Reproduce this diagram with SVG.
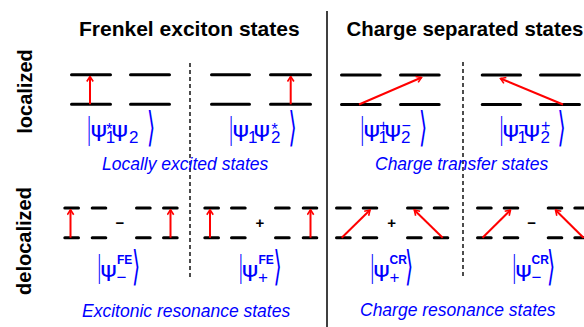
<svg xmlns="http://www.w3.org/2000/svg" width="584" height="327" viewBox="0 0 584 327">
<defs>
<style>
.lv{stroke:#000;stroke-width:3;stroke-linecap:round;fill:none}
.dv{stroke:#000;stroke-width:1.4;stroke-dasharray:4 3;fill:none}
.sd{stroke:#000;stroke-width:1.5;fill:none}
.ar{stroke:#f00;stroke-width:2;fill:none;marker-end:url(#ah)}
.ti{font-family:"Liberation Sans",Arial,sans-serif;font-weight:bold;font-size:21px;fill:#000}
.si{font-family:"Liberation Sans",Arial,sans-serif;font-weight:bold;font-size:20px;fill:#000;text-anchor:middle}
.cp{font-family:"Liberation Sans",Arial,sans-serif;font-style:italic;font-size:17.5px;fill:#0000ff}
.kt{font-family:"Liberation Sans",Arial,sans-serif;font-size:20px;fill:#0000ff}
.ps{font-family:"DejaVu Sans",sans-serif;font-size:22px;fill:#0000ff}
.sb{font-size:17px}
.sp{font-size:16px}
.bs{font-size:12px;font-weight:bold}
.br{font-family:"Liberation Sans",Arial,sans-serif;font-size:20px;fill:#0000ff}
.an{font-family:"DejaVu Sans",sans-serif;font-size:30px;fill:#0000ff}
.pm{font-family:"Liberation Sans",Arial,sans-serif;font-weight:bold;font-size:15px;fill:#000;text-anchor:middle}
</style>
<marker id="ah" viewBox="-6 -4 7 8" markerWidth="7" markerHeight="8" refX="0" refY="0" orient="auto" markerUnits="userSpaceOnUse">
<path d="M-5,-3.2 L0,0 L-5,3.2" fill="none" stroke="#f00" stroke-width="1.6"/>
</marker>
</defs>
<rect width="584" height="327" fill="#fff"/>

<g id="headers">
<text class="ti" x="79" y="36">Frenkel exciton states</text>
<text class="ti" x="346.5" y="36" style="font-size:20.4px">Charge separated states</text>
<text class="si" transform="translate(31.5,91.5) rotate(-90)">localized</text>
<text class="si" transform="translate(31,241) rotate(-90)">delocalized</text>
</g>

<g id="dividers">
<line class="sd" x1="327" y1="11" x2="327" y2="327"/>
<line class="dv" x1="190" y1="63" x2="190" y2="278"/>
<line class="dv" x1="463" y1="62" x2="463" y2="278"/>
</g>

<g id="le1">
<path class="lv" d="M71.5,74.7H110.5M130.5,74.7H169.5M71.5,104.3H110.5M130.5,104.3H169.5"/>
<text class="br" transform="translate(87.5,138.6) scale(0.6,1.6)">|</text>
<text class="ps" transform="translate(90.5,137) scale(1.15,1)">ψ</text>
<text class="kt"><tspan class="sp" x="106.3" y="135">*</tspan><tspan class="sb" x="105.7" y="142.5">1</tspan></text>
<text class="ps" transform="translate(111.5,137) scale(1.15,1)">ψ</text>
<text class="kt"><tspan class="sb" x="129" y="143">2</tspan></text>
<text class="an" transform="translate(147,141) scale(0.7,1.36)">⟩</text>
</g>

<g id="le2">
<path class="lv" d="M211.5,74.7H249.5M270.5,74.7H310.5M211.5,104.3H249.5M270.5,104.3H310.5"/>
<text class="br" transform="translate(229.5,138.6) scale(0.6,1.6)">|</text>
<text class="ps" transform="translate(232.5,137) scale(1.15,1)">ψ</text>
<text class="kt"><tspan class="sb" x="248" y="142.5">1</tspan></text>
<text class="ps" transform="translate(253.5,137) scale(1.15,1)">ψ</text>
<text class="kt"><tspan class="sp" x="271.5" y="135">*</tspan><tspan class="sb" x="271" y="143">2</tspan></text>
<text class="an" transform="translate(288.5,141) scale(0.7,1.36)">⟩</text>
<text class="cp" x="102" y="170">Locally excited states</text>
</g>

<g id="ct1">
<path class="lv" d="M341.5,75H380.2M400.5,75H439.2M341.5,104.5H380.2M400.5,104.5H439.2"/>
<text class="br" transform="translate(360.7,138.6) scale(0.6,1.6)">|</text>
<text class="ps" transform="translate(363.5,137) scale(1.15,1)">ψ</text>
<text class="kt"><tspan class="sp" x="378.8" y="131">+</tspan><tspan class="sb" x="378.5" y="142.5">1</tspan></text>
<text class="ps" transform="translate(384.5,137) scale(1.15,1)">ψ</text>
<text class="kt"><tspan class="sp" x="401.5" y="131">−</tspan><tspan class="sb" x="401" y="143">2</tspan></text>
<text class="an" transform="translate(419,141) scale(0.7,1.36)">⟩</text>
</g>

<g id="ct2">
<path class="lv" d="M482.2,75H520.5M540.5,75H579.5M482.2,104.5H520.5M540.5,104.5H579.5"/>
<text class="br" transform="translate(500,138.6) scale(0.6,1.6)">|</text>
<text class="ps" transform="translate(502.5,137) scale(1.15,1)">ψ</text>
<text class="kt"><tspan class="sp" x="518" y="131">−</tspan><tspan class="sb" x="517.5" y="142.5">1</tspan></text>
<text class="ps" transform="translate(523.5,137) scale(1.15,1)">ψ</text>
<text class="kt"><tspan class="sp" x="541" y="131">+</tspan><tspan class="sb" x="540.5" y="143">2</tspan></text>
<text class="an" transform="translate(557.5,141) scale(0.7,1.36)">⟩</text>
<text class="cp" x="375" y="170">Charge transfer states</text>
</g>

<g id="fe-minus">
<path class="lv" d="M64.8,208H78.5M92.2,208H105.8M136.5,208H150.2M163.5,208H177.2M64.8,237.7H78.5M92.2,237.7H105.8M136.5,237.7H150.2M163.5,237.7H177.2"/>
<text class="pm" x="120" y="227.5">−</text>
<text class="br" transform="translate(97.7,276.5) scale(0.6,1.6)">|</text>
<text class="ps" transform="translate(100.2,277) scale(1.15,1)">ψ</text>
<text class="kt"><tspan class="bs" x="117" y="263.5">FE</tspan><tspan class="sb" x="116.5" y="282.5">−</tspan></text>
<text class="an" transform="translate(132,280) scale(0.7,1.36)">⟩</text>
</g>

<g id="fe-plus">
<path class="lv" d="M204.8,208H218.5M231.5,208H245.2M275.5,208H289.2M303.2,208H316.8M204.8,237.7H218.5M231.5,237.7H245.2M275.5,237.7H289.2M303.2,237.7H316.8"/>
<text class="pm" x="260" y="227.5">+</text>
<text class="br" transform="translate(239.3,276.5) scale(0.6,1.6)">|</text>
<text class="ps" transform="translate(241.8,277) scale(1.15,1)">ψ</text>
<text class="kt"><tspan class="bs" x="258.5" y="263.5">FE</tspan><tspan class="sb" x="258" y="282.5">+</tspan></text>
<text class="an" transform="translate(273.5,280) scale(0.7,1.36)">⟩</text>
<text class="cp" x="82" y="316.5">Excitonic resonance states</text>
</g>

<g id="cr-plus">
<path class="lv" d="M336.5,208H350.2M363.2,208H376.8M407.5,208H421.2M434.2,208H447.8M336.5,237.7H350.2M363.2,237.7H376.8M407.5,237.7H421.2M434.2,237.7H447.8"/>
<text class="pm" x="391.7" y="227.5">+</text>
<text class="br" transform="translate(370.7,276.5) scale(0.6,1.6)">|</text>
<text class="ps" transform="translate(373.2,277) scale(1.15,1)">ψ</text>
<text class="kt"><tspan class="bs" x="389.5" y="263.5">CR</tspan><tspan class="sb" x="389.5" y="282.5">+</tspan></text>
<text class="an" transform="translate(405,280) scale(0.7,1.36)">⟩</text>
</g>

<g id="cr-minus">
<path class="lv" d="M477.5,208H491.2M504.2,208H517.8M548.2,208H561.8M574.8,208H590M477.5,237.7H491.2M504.2,237.7H517.8M548.2,237.7H561.8M574.8,237.7H590"/>
<text class="pm" x="531.7" y="227.5">−</text>
<text class="br" transform="translate(512.7,276.5) scale(0.6,1.6)">|</text>
<text class="ps" transform="translate(515.2,277) scale(1.15,1)">ψ</text>
<text class="kt"><tspan class="bs" x="531.5" y="263.5">CR</tspan><tspan class="sb" x="531.5" y="282.5">−</tspan></text>
<text class="an" transform="translate(547,280) scale(0.7,1.36)">⟩</text>
<text class="cp" x="360" y="316">Charge resonance states</text>
</g>

<g id="connectors">
<line class="ar" x1="90" y1="104.3" x2="90" y2="76.5"/>
<line class="ar" x1="290.7" y1="104.3" x2="290.7" y2="76.5"/>
<line class="ar" x1="359" y1="104.5" x2="421.5" y2="77.5"/>
<line class="ar" x1="563" y1="104.5" x2="500.5" y2="78.5"/>
<line class="ar" x1="70.5" y1="237.7" x2="70.5" y2="209.7"/>
<line class="ar" x1="170.5" y1="237.7" x2="170.5" y2="209.7"/>
<line class="ar" x1="210" y1="237.7" x2="210" y2="209.7"/>
<line class="ar" x1="310.5" y1="237.7" x2="310.5" y2="209.7"/>
<line class="ar" x1="341.7" y1="237.7" x2="370" y2="210"/>
<line class="ar" x1="442.7" y1="237.7" x2="414.3" y2="210"/>
<line class="ar" x1="482.5" y1="237.7" x2="510.5" y2="210"/>
<line class="ar" x1="583.5" y1="237.7" x2="555.5" y2="210"/>
</g>
</svg>
